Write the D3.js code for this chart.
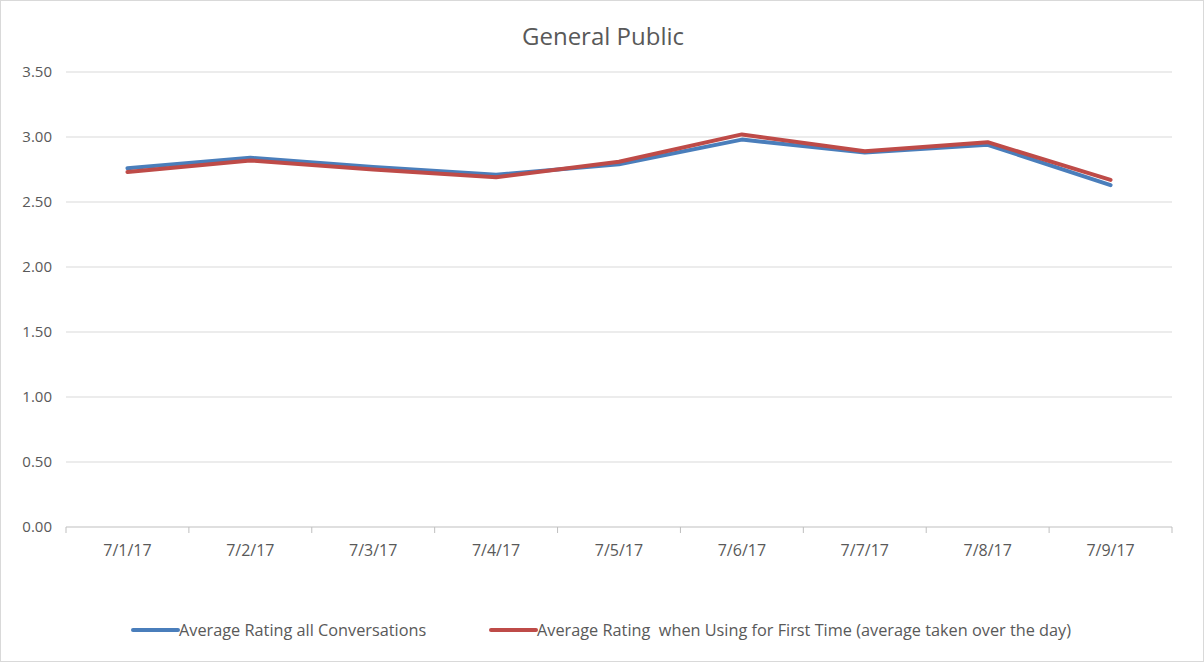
<!DOCTYPE html>
<html><head><meta charset="utf-8">
<script src="https://cdn.jsdelivr.net/npm/d3@7"></script>
<style>body{margin:0;background:#fff}svg{font-family:"Open Sans",Calibri,sans-serif}</style>
</head><body>
<svg id="c" width="1204" height="662"></svg>
<script>
const categories=["7/1/17","7/2/17","7/3/17","7/4/17","7/5/17","7/6/17","7/7/17","7/8/17","7/9/17"];
const allConv=[2.76,2.84,2.77,2.71,2.79,2.98,2.88,2.94,2.63];
const firstTime=[2.73,2.82,2.75,2.69,2.81,3.02,2.89,2.96,2.67];
const yTicks=[0,0.5,1,1.5,2,2.5,3,3.5];
const seriesNames=["Average Rating all Conversations","Average Rating  when Using for First Time (average taken over the day)"];
const colors=["#4a7ebb","#be4b48"];

const svg=d3.select("#c");
svg.append("rect").attr("x",0.5).attr("y",0.5).attr("width",1203).attr("height",661).attr("fill","#fff").attr("stroke","#d9d9d9");
const x=d3.scaleBand().domain(categories).range([66,1172]);
const y=d3.scaleLinear().domain([0,3.5]).range([527,72]);
svg.append("text").attr("x",603).attr("y",45).attr("text-anchor","middle").attr("font-size",24).attr("fill","#595959").text("General Public");
const g=svg.append("g");
yTicks.forEach(t=>{
  g.append("line").attr("x1",66).attr("x2",1172).attr("y1",y(t)).attr("y2",y(t)).attr("stroke",t===0?"#bfbfbf":"#d9d9d9");
  g.append("text").attr("x",52).attr("y",y(t)+5).attr("text-anchor","end").attr("font-size",15).attr("fill","#595959").text(t.toFixed(2));
});
categories.concat([null]).forEach((c,i)=>{
  const xx=c?x(c):x.range()[1];
  g.append("line").attr("x1",xx).attr("x2",xx).attr("y1",527).attr("y2",533).attr("stroke","#bfbfbf");
});
categories.forEach(c=>g.append("text").attr("x",x(c)+x.bandwidth()/2).attr("y",556).attr("text-anchor","middle").attr("font-size",16).attr("fill","#595959").text(c));
const line=d3.line().x((d,i)=>x(categories[i])+x.bandwidth()/2).y(d=>y(d));
[allConv,firstTime].forEach((s,k)=>svg.append("path").attr("d",line(s)).attr("fill","none").attr("stroke",colors[k]).attr("stroke-width",4).attr("stroke-linejoin","round").attr("stroke-linecap","round"));
const lx=[133,491];
seriesNames.forEach((n,k)=>{
  svg.append("line").attr("x1",lx[k]).attr("x2",lx[k]+45).attr("y1",630).attr("y2",630).attr("stroke",colors[k]).attr("stroke-width",4).attr("stroke-linecap","round");
  svg.append("text").attr("x",lx[k]+46).attr("y",636).attr("font-size",16.3).attr("fill","#595959").attr("xml:space","preserve").text(n);
});
</script></body></html>
